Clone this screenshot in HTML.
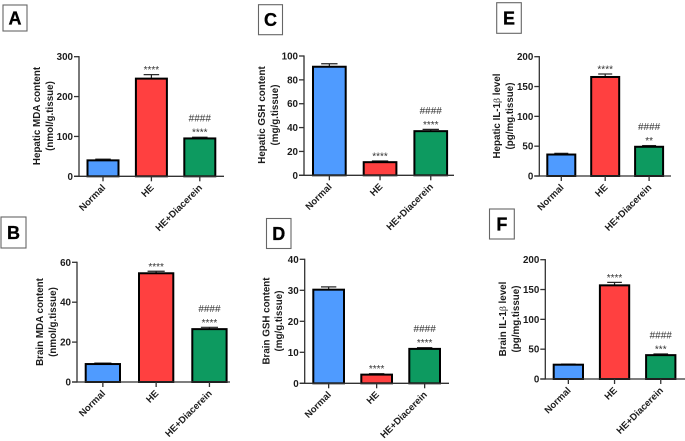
<!DOCTYPE html>
<html lang="en">
<head>
<meta charset="utf-8">
<title>Hepatic and brain biomarker bar charts</title>
<style>
  html, body { margin: 0; padding: 0; background: #fff; }
  body { width: 685px; height: 441px; overflow: hidden; }
  svg { display: block; font-family: "Liberation Sans", sans-serif; }
  .tick { font-size: 9.8px; font-weight: bold; fill: #1c1c1c; }
  .title { font-size: 9.8px; font-weight: bold; fill: #1c1c1c; }
  .cat { font-size: 9.5px; font-weight: bold; fill: #1c1c1c; }
  .sig { font-size: 10px; fill: #333; text-anchor: middle; }
  .letter { font-size: 18px; font-weight: bold; fill: #000; text-anchor: middle; stroke: #000; stroke-width: 0.3px; }
</style>
</head>
<body>
<svg id="figure" xmlns="http://www.w3.org/2000/svg" width="685" height="441" viewBox="0 0 685 441">
  <defs>
    <filter id="soft" x="-2%" y="-2%" width="104%" height="104%"><feGaussianBlur stdDeviation="0.32"/></filter>
  </defs>
  <g id="root" filter="url(#soft)"></g>
</svg>
<script>
var categories = ['Normal', 'HE', 'HE+Diacerein'];
var barColors = ['#4f9bff', '#ff4040', '#0f9a60'];

var mdaLiverValues = [40, 245, 95];
var mdaLiverErrors = [3, 10, 3];
var mdaLiverTicks = [0, 100, 200, 300];
var mdaLiverStars = ['', '****', '****'];
var mdaLiverHashes = ['', '', '####'];

var mdaBrainValues = [9, 54.5, 26.5];
var mdaBrainErrors = [0.5, 1, 0.9];
var mdaBrainTicks = [0, 20, 40, 60];
var mdaBrainStars = ['', '****', '****'];
var mdaBrainHashes = ['', '', '####'];

var gshLiverValues = [91, 11, 37];
var gshLiverErrors = [2.5, 1, 1.5];
var gshLiverTicks = [0, 20, 40, 60, 80, 100];
var gshLiverStars = ['', '****', '****'];
var gshLiverHashes = ['', '', '####'];

var gshBrainValues = [30.2, 2.8, 11.1];
var gshBrainErrors = [0.9, 0.3, 0.4];
var gshBrainTicks = [0, 10, 20, 30, 40];
var gshBrainStars = ['', '****', '****'];
var gshBrainHashes = ['', '', '####'];

var ilLiverValues = [36, 166, 49];
var ilLiverErrors = [2, 5, 2];
var ilLiverTicks = [0, 50, 100, 150, 200];
var ilLiverStars = ['', '****', '**'];
var ilLiverHashes = ['', '', '####'];

var ilBrainValues = [24, 157, 40];
var ilBrainErrors = [1, 5, 2];
var ilBrainTicks = [0, 50, 100, 150, 200];
var ilBrainStars = ['', '****', '***'];
var ilBrainHashes = ['', '', '####'];

var panels = [
  { id: 'a', letter: 'A', values: mdaLiverValues, errors: mdaLiverErrors, ticks: mdaLiverTicks, stars: mdaLiverStars, hashes: mdaLiverHashes,
    t1: 'Hepatic MDA content', t2: '(nmol/g.tissue)',
    box: [3, 5, 24, 26], ax: 79, y0: 176.3, yTop: 56.7, xEnd: 224, barL: 87.5, barW: 31, step: 48.4, t1x: 40, t2x: 53, ty: 116 },
  { id: 'b', letter: 'B', values: mdaBrainValues, errors: mdaBrainErrors, ticks: mdaBrainTicks, stars: mdaBrainStars, hashes: mdaBrainHashes,
    t1: 'Brain MDA content', t2: '(nmol/g.tissue)',
    box: [1, 217, 25, 31], ax: 77, y0: 382, yTop: 262.3, xEnd: 230, barL: 85.7, barW: 34.3, step: 53.3, t1x: 43, t2x: 56, ty: 322 },
  { id: 'c', letter: 'C', values: gshLiverValues, errors: gshLiverErrors, ticks: gshLiverTicks, stars: gshLiverStars, hashes: gshLiverHashes,
    t1: 'Hepatic GSH content', t2: '(mg/g.tissue)',
    box: [258.5, 4.7, 24, 30], ax: 304, y0: 175.3, yTop: 56, xEnd: 454, barL: 313, barW: 32.7, step: 50.7, t1x: 265, t2x: 278, ty: 115 },
  { id: 'd', letter: 'D', values: gshBrainValues, errors: gshBrainErrors, ticks: gshBrainTicks, stars: gshBrainStars, hashes: gshBrainHashes,
    t1: 'Brain GSH content', t2: '(mg/g.tissue)',
    box: [266.5, 218.5, 24.5, 30], ax: 304.7, y0: 383.3, yTop: 259.3, xEnd: 449, barL: 313.3, barW: 30.7, step: 48, t1x: 269.5, t2x: 282, ty: 321 },
  { id: 'e', letter: 'E', values: ilLiverValues, errors: ilLiverErrors, ticks: ilLiverTicks, stars: ilLiverStars, hashes: ilLiverHashes,
    t1: 'Hepatic IL-1', t1b: ' level', t2: '(pg/mg.tissue)',
    box: [496.7, 2.7, 24.6, 30.6], ax: 539.3, y0: 176, yTop: 56.7, xEnd: 671, barL: 547.3, barW: 28, step: 43.9, t1x: 500, t2x: 513, ty: 116 },
  { id: 'f', letter: 'F', values: ilBrainValues, errors: ilBrainErrors, ticks: ilBrainTicks, stars: ilBrainStars, hashes: ilBrainHashes,
    t1: 'Brain IL-1', t1b: ' level', t2: '(pg/mg.tissue)',
    box: [489.5, 209, 24.8, 30], ax: 545.3, y0: 379, yTop: 259.7, xEnd: 685, barL: 553.7, barW: 29.3, step: 46.2, t1x: 506, t2x: 519, ty: 319 }
];

var NS = 'http://www.w3.org/2000/svg';
var root = document.getElementById('root');

function make(parent, tag, attrs, text) {
  var el = document.createElementNS(NS, tag);
  for (var k in attrs) el.setAttribute(k, attrs[k]);
  if (text !== undefined) el.textContent = text;
  parent.appendChild(el);
  return el;
}

function yScale(p, v) {
  var maxTick = p.ticks[p.ticks.length - 1];
  return p.y0 - (v / maxTick) * (p.y0 - p.yTop);
}

function xLeft(p, i) {
  return p.barL + i * p.step;
}

function xCenter(p, i) {
  return xLeft(p, i) + p.barW / 2;
}

function drawPanel(p) {
  var g = make(root, 'g', {});
  
  

  var box = make(g, 'rect', { x: p.box[0], y: p.box[1], width: p.box[2], height: p.box[3], fill: '#fff', stroke: '#666', 'stroke-width': 1.1 });
  
  

  var letter = make(g, 'text', { class: 'letter', x: p.box[0] + p.box[2] / 2, y: p.box[1] + p.box[3] / 2 + 6.3 }, p.letter);
  
  

  var title = make(g, 'text', { class: 'title', 'text-anchor': 'middle', transform: 'translate(' + p.t1x + ',' + p.ty + ') rotate(-90)' });
  
  
  make(title, 'tspan', {}, p.t1);
  if (p.t1b) {
    make(title, 'tspan', { 'font-family': '"Liberation Serif", serif', 'font-weight': 'normal' }, '\u03B2');
    make(title, 'tspan', {}, p.t1b);
  }

  var title2 = make(g, 'text', { class: 'title', 'text-anchor': 'middle', transform: 'translate(' + p.t2x + ',' + p.ty + ') rotate(-90)' }, p.t2);
  
  

  p.values.forEach(function (v, i) {
    var errTop = yScale(p, v + p.errors[i]);
    var cx = xCenter(p, i);

    var stem = make(g, 'line', { x1: cx, x2: cx, y1: yScale(p, v), y2: errTop, stroke: '#222', 'stroke-width': 1.2 });
    
    

    var cap = make(g, 'line', { x1: cx - p.barW / 4, x2: cx + p.barW / 4, y1: errTop, y2: errTop, stroke: '#222', 'stroke-width': 1.2 });
    
    

    var bar = make(g, 'rect', { x: xLeft(p, i), y: yScale(p, v), width: p.barW, height: p.y0 - yScale(p, v), fill: barColors[i], stroke: '#000', 'stroke-width': 2 });
    
    

    if (p.stars[i]) {
      var stars = make(g, 'text', { class: 'sig', x: cx, y: errTop - 1.5 }, p.stars[i]);
      
      
    }
    if (p.hashes[i]) {
      var hashes = make(g, 'text', { class: 'sig', x: cx, y: errTop - 15.5 }, p.hashes[i]);
      
      
    }

    var xt = make(g, 'line', { x1: cx, x2: cx, y1: p.y0, y2: p.y0 + 5, stroke: '#333', 'stroke-width': 1.3 });
    
    

    var lab = make(g, 'text', { class: 'cat', 'text-anchor': 'end', transform: 'translate(' + (cx + 3) + ',' + (p.y0 + 12) + ') rotate(-45)' }, categories[i]);
    
    
  });

  p.ticks.forEach(function (t) {
    var y = yScale(p, t);
    var tk = make(g, 'line', { x1: p.ax - 5, x2: p.ax, y1: y, y2: y, stroke: '#333', 'stroke-width': 1.3 });
    
    

    var tl = make(g, 'text', { class: 'tick', 'text-anchor': 'end', x: p.ax - 6, y: y + 3.5 }, t);
    
    
  });

  var yAxis = make(g, 'line', { x1: p.ax, x2: p.ax, y1: p.yTop - 0.6, y2: p.y0 + 0.6, stroke: '#333', 'stroke-width': 1.3 });
  
  

  var xAxis = make(g, 'line', { x1: p.ax - 5, x2: p.xEnd, y1: p.y0, y2: p.y0, stroke: '#333', 'stroke-width': 1.3 });
  
  
}

panels.forEach(drawPanel);
</script>
</body>
</html>
